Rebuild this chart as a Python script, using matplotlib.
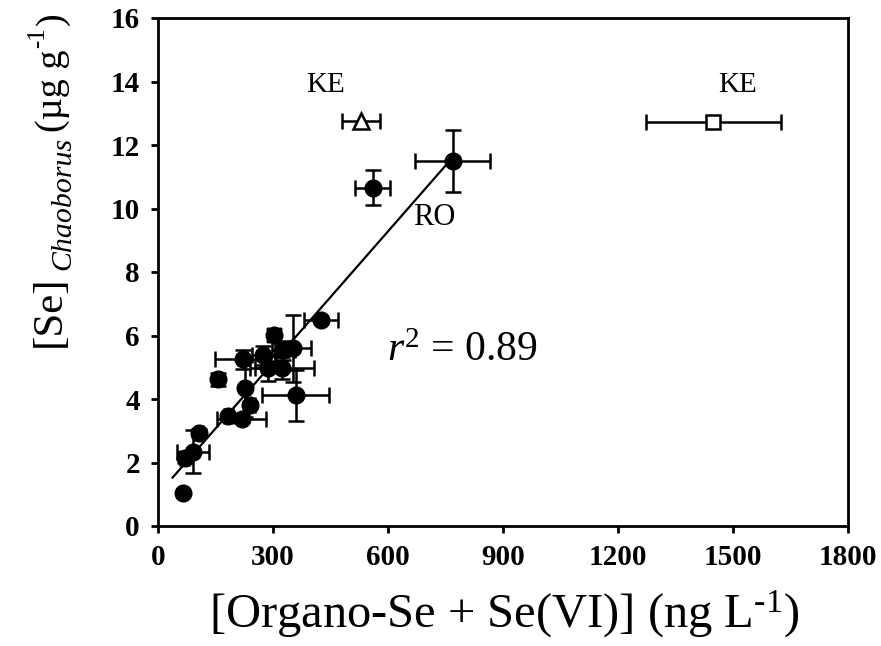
import matplotlib
matplotlib.use("Agg")
import matplotlib.pyplot as plt
import numpy as np

plt.rcParams['font.family'] = ['Liberation Serif', 'DejaVu Serif']
plt.rcParams['mathtext.fontset'] = 'custom'
plt.rcParams['mathtext.rm'] = 'Liberation Serif'
plt.rcParams['mathtext.it'] = 'Liberation Serif:italic'
plt.rcParams['mathtext.default'] = 'regular'

W, H = 881, 646

# lakes with Chaoborus data (filled circles)
org_se = [64, 70, 92, 108, 157, 183, 218, 226, 240, 222, 275, 288, 303, 324, 327, 353, 359, 425, 560, 769]
se_chao = [1.05, 2.13, 2.34, 2.93, 4.62, 3.45, 3.38, 4.34, 3.82, 5.25, 5.38, 4.97, 6.02, 4.97, 5.54, 5.6, 4.12, 6.48, 10.65, 11.5]
org_se_err = [0, 12, 42, 10, 8, 12, 64, 6, 12, 74, 30, 35, 15, 84, 30, 47, 87, 44, 45, 98]
se_chao_err = [0, 0.15, 0.68, 0.12, 0.2, 0.08, 0.12, 0.9, 0.1, 0.3, 0.3, 0.4, 0.2, 0.35, 0.3, 1.05, 0.8, 0.08, 0.55, 0.98]

# KE outliers: x, y, x error
ke_tri = (530, 12.75, 50)
ke_sq = (1448, 12.72, 176)

# regression
slope, intercept = 0.0138, 1.0
fit_x = [38, 765]
r2 = 0.89

fig = plt.figure(figsize=(W/100, H/100), dpi=100)
ax = fig.add_axes([158/W, 1 - 526/H, 690/W, 508/H])

ekw = dict(ecolor='black', elinewidth=1.8, capsize=6, capthick=1.8, linestyle='none')
ax.errorbar(org_se, se_chao, xerr=org_se_err, yerr=se_chao_err, fmt='o',
            color='black', markersize=12, zorder=3, **ekw)
ax.errorbar(ke_tri[0], ke_tri[1], xerr=ke_tri[2], fmt='^', mfc='white', mec='black',
            mew=1.8, markersize=11, zorder=3, **ekw)
ax.errorbar(ke_sq[0], ke_sq[1], xerr=ke_sq[2], fmt='s', mfc='white', mec='black',
            mew=1.8, markersize=10.5, zorder=3, **ekw)

fx = np.array(fit_x)
ax.plot(fx, slope * fx + intercept, color='black', lw=1.6, zorder=2)

ax.text(438, 13.67, 'KE', fontsize=21, ha='center', va='baseline')
ax.text(1513, 13.67, 'KE', fontsize=21, ha='center', va='baseline')
ax.text(720, 9.48, 'RO', fontsize=22, ha='center', va='baseline')
ax.text(598, 5.2, r'$\mathit{r}^{\mathit{2}}$ = %.2f' % r2, fontsize=30, ha='left', va='baseline')

ax.set_xlim(0, 1800)
ax.set_ylim(0, 16)
ax.set_xticks(np.arange(0, 1801, 300))
ax.set_yticks(np.arange(0, 17, 2))
for s in ax.spines.values():
    s.set_linewidth(2)
ax.tick_params(direction='out', length=5, width=2, labelsize=21, pad=8)
for lab in ax.get_xticklabels() + ax.get_yticklabels():
    lab.set_fontweight('bold')

fig.canvas.draw()
rend = fig.canvas.get_renderer()

# x label
xl = fig.text(504/W, 1 - 628/H, r'[Organo-Se + Se(VI)] (ng L$^{\text{-1}}$)', fontsize=32,
              ha='center', va='baseline')
bb = xl.get_window_extent(rend)
xl.set_fontsize(32 * 592 / bb.width)

# y label in pieces, reading bottom to top: text, baseline x, size, style, gap after
y_parts = [('[Se]', 60, 31, 'normal', 5),
           ('Chaoborus', 70, 21.5, 'italic', 5),
           ('(µg g', 62, 27.5, 'normal', 2),
           ('-1', 44, 18, 'normal', 2),
           (')', 62, 27.5, 'normal', 0)]
ypos = 347
for txt, bx, size, style, gap in y_parts:
    t = fig.text(bx/W, 1 - ypos/H, txt, fontsize=size, style=style, rotation=90,
                 rotation_mode='anchor', ha='left', va='baseline')
    ypos -= t.get_window_extent(rend).height + gap

fig.savefig('out.png', dpi=100)
